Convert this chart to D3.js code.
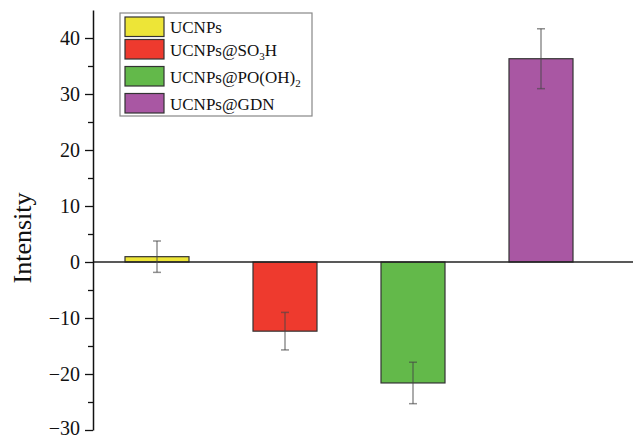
<!DOCTYPE html>
<html>
<head>
<meta charset="utf-8">
<script src="https://cdn.jsdelivr.net/npm/d3@7"></script>
<style>
  body { margin: 0; background: #fff; }
  svg { display: block; }
  text { font-family: "Liberation Serif", "Times New Roman", serif; }
</style>
</head>
<body>
<svg id="chart"></svg>
<script>
const categories = ['UCNPs', 'UCNPs@SO3H', 'UCNPs@PO(OH)2', 'UCNPs@GDN'];
const values = [0.95, -12.35, -21.6, 36.3];
const errors = [2.8, 3.35, 3.7, 5.35];
const colors = ['#ede537', '#ee3a2e', '#63b94a', '#a957a3'];
const yTicks = [-30, -20, -10, 0, 10, 20, 30, 40];

const width = 633, height = 439;
const margin = { top: 10, right: 28, bottom: 9, left: 93 };

const svg = d3.select('#chart')
  .attr('width', width)
  .attr('height', height);

const x = d3.scaleBand()
  .domain(categories)
  .range([margin.left, width - margin.right])
  .paddingInner(0.5)
  .paddingOuter(0.25);

const y = d3.scaleLinear()
  .domain([-30, 45])
  .range([height - margin.bottom, margin.top]);

// Bars
svg.append('g')
  .selectAll('rect')
  .data(values)
  .enter()
  .append('rect')
  .attr('x', (d, i) => x(categories[i]))
  .attr('y', d => y(Math.max(0, d)))
  .attr('width', x.bandwidth())
  .attr('height', d => Math.abs(y(d) - y(0)))
  .attr('fill', (d, i) => colors[i])
  .attr('stroke', '#333')
  .attr('stroke-width', 1.2);

// Zero line
svg.append('line')
  .attr('x1', margin.left)
  .attr('x2', width)
  .attr('y1', y(0))
  .attr('y2', y(0))
  .attr('stroke', '#222')
  .attr('stroke-width', 1.3);

// Error bars
const err = svg.append('g')
  .attr('stroke', 'rgba(70,70,70,0.6)')
  .attr('stroke-width', 1.5);

values.forEach((v, i) => {
  const cx = x(categories[i]) + x.bandwidth() / 2;
  err.append('line')
    .attr('x1', cx).attr('x2', cx)
    .attr('y1', y(v + errors[i])).attr('y2', y(v - errors[i]));
  [v + errors[i], v - errors[i]].forEach(e => {
    err.append('line')
      .attr('x1', cx - 4).attr('x2', cx + 4)
      .attr('y1', y(e)).attr('y2', y(e));
  });
});

// Y axis with minor ticks
const minor = d3.range(-25, 45, 10);
svg.append('g')
  .attr('transform', `translate(${margin.left},0)`)
  .call(d3.axisLeft(y).tickValues(minor).tickSize(5).tickFormat(''))
  .call(g => g.select('.domain').remove())
  .call(g => g.selectAll('line').attr('stroke', '#111').attr('stroke-width', 1.3));

const yAxis = svg.append('g')
  .attr('transform', `translate(${margin.left},0)`)
  .call(d3.axisLeft(y).tickValues(yTicks).tickSize(8).tickSizeOuter(0).tickPadding(5));
yAxis.select('.domain').attr('stroke', '#111').attr('stroke-width', 1.5);
yAxis.selectAll('line').attr('stroke', '#111').attr('stroke-width', 1.3);
yAxis.selectAll('text')
  .attr('font-size', 20)
  .attr('fill', '#111')
  .attr('dy', d => d === -30 ? '0.22em' : '0.32em')
  .style('font-family', '"Liberation Serif", serif');

// Y axis label
svg.append('text')
  .attr('transform', 'rotate(-90)')
  .attr('x', -238)
  .attr('y', 31)
  .attr('text-anchor', 'middle')
  .attr('font-size', 26)
  .attr('fill', '#111')
  .text('Intensity');

// Legend
const legend = svg.append('g');
legend.append('rect')
  .attr('x', 120).attr('y', 13)
  .attr('width', 192).attr('height', 103)
  .attr('fill', '#fff')
  .attr('stroke', '#888')
  .attr('stroke-width', 1.2);

const legendRows = [17, 39.5, 66.5, 93.5];
const labels = [
  [['UCNPs', '']],
  [['UCNPs@SO', ''], ['3', 'sub'], ['H', '']],
  [['UCNPs@PO(OH)', ''], ['2', 'sub']],
  [['UCNPs@GDN', '']]
];

legendRows.forEach((ly, i) => {
  legend.append('rect')
    .attr('x', 125).attr('y', ly)
    .attr('width', 39).attr('height', 19.5)
    .attr('fill', colors[i])
    .attr('stroke', '#333')
    .attr('stroke-width', 1.2);
  const t = legend.append('text')
    .attr('x', 170).attr('y', ly + 16)
    .attr('font-size', 17)
    .attr('fill', '#111');
  labels[i].forEach(([s, kind]) => {
    const ts = t.append('tspan').text(s);
    if (kind === 'sub') {
      ts.attr('font-size', 11).attr('dy', 4);
    } else if (t.selectAll('tspan').size() > 1) {
      ts.attr('dy', -4);
    }
  });
});
</script>
</body>
</html>
